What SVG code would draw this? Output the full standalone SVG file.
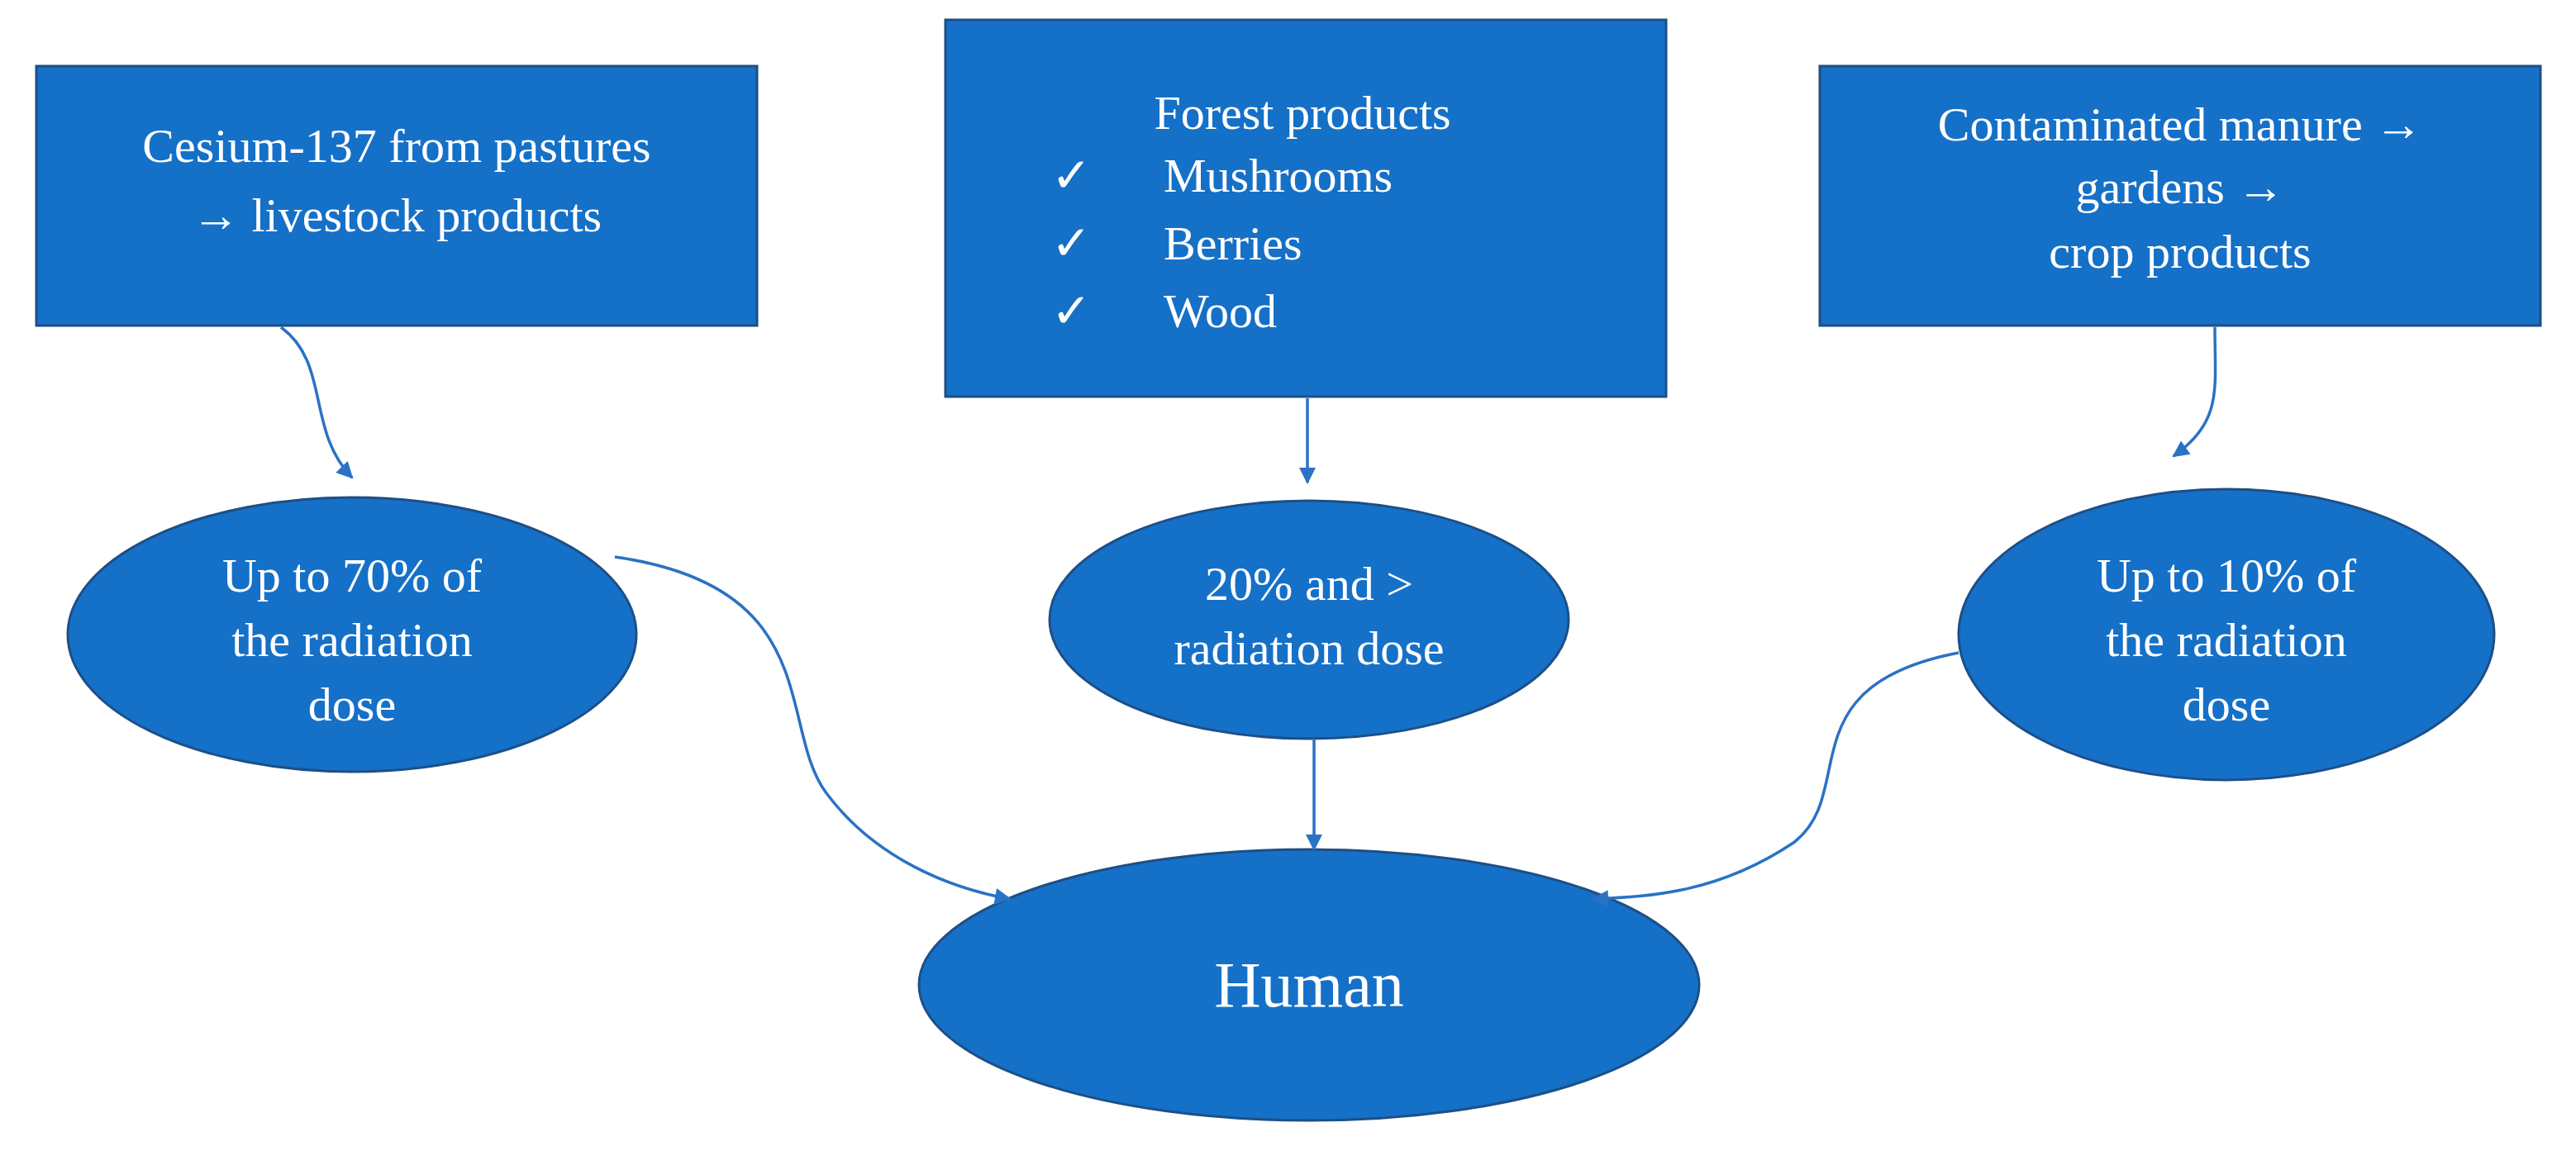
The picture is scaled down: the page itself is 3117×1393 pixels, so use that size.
<svg xmlns="http://www.w3.org/2000/svg" width="3117" height="1393" viewBox="0 0 3117 1393">
<defs>
<marker id="ah" viewBox="0 0 10 10" refX="9" refY="5" markerWidth="28" markerHeight="20" markerUnits="userSpaceOnUse" orient="auto"><path d="M0,0 L10,5 L0,10 z" fill="#2a72c4"/></marker>
</defs>
<style>
.n{fill:#1570c8;stroke:#1d4f86;stroke-width:3}
.t{fill:#fff;font-family:"Liberation Serif",serif;font-size:58px;text-anchor:middle}
.s{text-anchor:start}
.c{fill:none;stroke:#2a72c4;stroke-width:3.5;marker-end:url(#ah)}
</style>
<rect width="3117" height="1393" fill="#fff"/>
<g id="box1"><rect class="n" x="44" y="80" width="872" height="314"/>
<text class="t" x="480" y="196">Cesium-137 from pastures</text><text class="t" x="480" y="280">→ livestock products</text></g>
<g id="box2"><rect class="n" x="1144" y="24" width="872" height="456"/>
<text class="t" x="1576" y="156">Forest products</text>
<text class="t" x="1296" y="232">✓</text><text class="t s" x="1408" y="232">Mushrooms</text>
<text class="t" x="1296" y="314">✓</text><text class="t s" x="1408" y="314">Berries</text>
<text class="t" x="1296" y="396">✓</text><text class="t s" x="1408" y="396">Wood</text></g>
<g id="box3"><rect class="n" x="2202" y="80" width="872" height="314"/>
<text class="t" x="2638" y="170">Contaminated manure →</text><text class="t" x="2638" y="246">gardens →</text><text class="t" x="2638" y="324">crop products</text></g>
<g id="e1"><ellipse class="n" cx="426" cy="768" rx="344" ry="166"/>
<text class="t" x="426" y="716">Up to 70% of</text><text class="t" x="426" y="794">the radiation</text><text class="t" x="426" y="872">dose</text></g>
<g id="e2"><ellipse class="n" cx="1584" cy="750" rx="314" ry="144"/>
<text class="t" x="1584" y="726">20% and &gt;</text><text class="t" x="1584" y="804">radiation dose</text></g>
<g id="e3"><ellipse class="n" cx="2694" cy="768" rx="324" ry="176"/>
<text class="t" x="2694" y="716">Up to 10% of</text><text class="t" x="2694" y="794">the radiation</text><text class="t" x="2694" y="872">dose</text></g>
<g id="human"><ellipse class="n" cx="1584" cy="1192" rx="472" ry="164"/>
<text class="t" x="1584" y="1218" style="font-size:78px">Human</text></g>
<g id="connectors">
<path class="c" d="M340,396 C400,440 370,520 426,578"/>
<path class="c" d="M1582,482 L1582,584"/>
<path class="c" d="M2680,396 C2680,470 2690,510 2630,552"/>
<path class="c" d="M744,674 C1000,710 940,880 1000,960 C1060,1040 1150,1075 1222,1088"/>
<path class="c" d="M1590,894 L1590,1028"/>
<path class="c" d="M2370,790 C2160,830 2250,960 2170,1020 C2080,1080 2000,1085 1928,1088"/>
</g>
</svg>
